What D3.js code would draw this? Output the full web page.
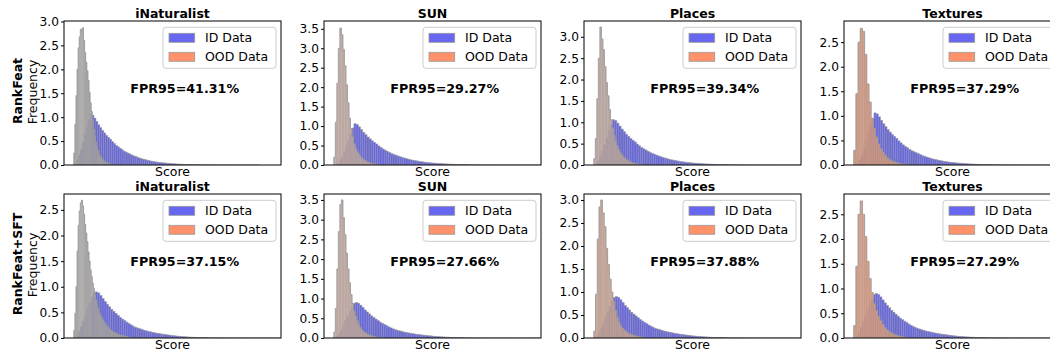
<!DOCTYPE html>
<html><head><meta charset="utf-8">
<script src="https://cdn.jsdelivr.net/npm/d3@7"></script>
<style>body{margin:0;background:#fff}svg{display:block;font-family:"DejaVu Sans",sans-serif}</style>
</head><body><svg id="c" width="1050" height="353"></svg>
<script>
// ---------- data ----------
const datasets = ["iNaturalist", "SUN", "Places", "Textures"];
const methods = ["RankFeat", "RankFeat+SFT"];
const fpr95 = [[41.31, 29.27, 39.34, 37.29], [37.15, 27.66, 37.88, 27.29]];
const yMax = [[3.01, 3.70, 3.37, 2.93], [2.81, 3.65, 3.13, 2.91]];
const yTickLabels = [
  [[0, 0.5, 1, 1.5, 2, 2.5, 3], [0, 0.5, 1, 1.5, 2, 2.5, 3, 3.5], [0, 0.5, 1, 1.5, 2, 2.5, 3], [0, 0.5, 1, 1.5, 2, 2.5]],
  [[0, 0.5, 1, 1.5, 2, 2.5], [0, 0.5, 1, 1.5, 2, 2.5, 3, 3.5], [0, 0.5, 1, 1.5, 2, 2.5, 3], [0, 0.5, 1, 1.5, 2, 2.5]]
];
// ID histogram (ImageNet) per method, bin edges in score units
const idHistRankFeat = [0.03,0.1,0.2,0.33,0.48,0.64,0.8,0.95,1.06,1.04,0.98,0.91,0.84,0.78,0.72,0.67,0.62,0.58,0.54,0.49,0.45,0.41,0.38,0.35,0.32,0.29,0.27,0.25,0.23,0.21,0.19,0.175,0.16,0.145,0.13,0.12,0.11,0.1,0.09,0.082,0.074,0.067,0.06,0.055,0.05,0.045,0.041,0.037,0.034,0.03,0.027,0.024,0.021,0.019,0.017,0.015,0.013,0.011,0.01,0.009,0.008,0.007,0.006,0.005,0.005,0.004,0.004,0.003,0.003,0.003,0.003,0.003,0.003,0.002,0.002,0.002,0.002,0.002,0.002,0.002,0.002,0.002,0.002,0.001,0.001,0.001,0.001,0.001,0.001,0.001,0.001,0.001,0.001,0.001,0.001];
const idHistSFT = [0.01,0.04,0.12,0.22,0.33,0.45,0.57,0.69,0.8,0.88,0.9,0.88,0.83,0.77,0.71,0.66,0.61,0.56,0.52,0.48,0.44,0.4,0.37,0.34,0.31,0.28,0.255,0.23,0.21,0.195,0.18,0.165,0.15,0.14,0.13,0.12,0.11,0.1,0.092,0.085,0.078,0.072,0.066,0.06,0.054,0.048,0.043,0.038,0.034,0.03,0.027,0.024,0.021,0.018,0.016,0.014,0.012,0.01,0.009,0.008,0.007,0.006,0.005,0.004,0.004,0.003,0.003,0.003,0.003,0.003,0.003,0.002,0.002,0.002,0.002,0.002,0.002,0.002,0.002,0.002,0.002,0.001,0.001,0.001,0.001,0.001,0.001,0.001,0.001,0.001,0.001,0.001,0.001,0.001,0.001];
const idBinStart = [[4.8, 5.8, 5.1, 5.8], [4.5, 4.5, 4.5, 4.5]];
const idBinWidth = [[0.9, 1.0, 1.0, 1.0], [1.0, 1.0, 1.0, 1.0]];
// OOD histograms
const oodINatRankFeat = [0.25,0.85,1.45,2.0,2.45,2.68,2.84,2.79,2.87,2.6,2.35,2.15,1.97,1.77,1.52,1.3,1.12,0.92,0.75,0.6,0.48,0.38,0.3,0.23,0.18,0.15,0.12,0.09,0.075,0.06,0.05,0.04,0.03,0.02,0.015,0.01];
const oodSUNRankFeat = [0.2,1.1,2.1,3.0,3.52,3.35,2.97,2.55,2.06,1.6,1.2,0.93,0.74,0.55,0.44,0.35,0.29,0.23,0.18,0.15,0.12,0.1,0.08,0.06,0.045,0.035,0.03,0.02,0.015,0.01];
const oodPlacesRankFeat = [0.15,0.62,1.55,2.5,3.23,2.95,2.7,2.3,1.93,1.62,1.3,1.06,0.86,0.7,0.56,0.45,0.36,0.29,0.24,0.2,0.16,0.13,0.11,0.085,0.07,0.055,0.045,0.035,0.028,0.02,0.015,0.01];
const oodTexturesRankFeat = [0.3,1.45,2.5,2.78,2.72,2.25,1.65,1.28,0.95,0.74,0.57,0.43,0.33,0.26,0.2,0.15,0.11,0.085,0.065,0.05,0.038,0.028,0.02,0.015,0.01];
const oodINatSFT = [0.15,0.48,1.0,1.7,2.2,2.48,2.64,2.69,2.58,2.42,2.22,2.05,1.88,1.68,1.5,1.33,1.2,1.07,0.97,0.86,0.74,0.66,0.58,0.5,0.45,0.41,0.37,0.33,0.3,0.27,0.24,0.22,0.2,0.17,0.15,0.13,0.12,0.11,0.1,0.09,0.08,0.07,0.06,0.055,0.05,0.045,0.04,0.035,0.03,0.025,0.02,0.015,0.01];
const oodSUNSFT = [0.15,0.75,1.75,2.7,3.38,3.5,3.05,2.62,2.15,1.75,1.4,1.1,0.88,0.68,0.55,0.44,0.35,0.27,0.21,0.17,0.14,0.12,0.095,0.075,0.06,0.05,0.04,0.03,0.02,0.015,0.01];
const oodPlacesSFT = [0.15,0.95,2.15,2.85,3.0,2.72,2.42,1.95,1.6,1.28,1.0,0.8,0.6,0.46,0.36,0.28,0.22,0.18,0.15,0.12,0.1,0.08,0.066,0.052,0.04,0.032,0.024,0.018,0.012];
const oodTexturesSFT = [0.25,1.45,2.5,2.77,2.5,2.05,1.55,1.2,0.92,0.7,0.56,0.44,0.35,0.27,0.21,0.165,0.13,0.1,0.075,0.06,0.045,0.035,0.025,0.018,0.012];
const oodBinStart = [[4.5, 4.5, 4.5, 4.5], [4.5, 4.5, 4.5, 4.5]];
const oodBinWidth = [[0.5, 0.7, 0.7, 1.0], [0.5, 0.7, 0.8, 1.0]];

// ---------- styles ----------
// apparent colour of the dense OOD bars (fill blended with the grey bar edges)
const oodTone = [["#a19e9e", "#b6a39c", "#b3a19b", "#d3977f"], ["#a3a09f", "#b7a39b", "#c1a193", "#d69a82"]];
const oodEdgeOpacity = [[0, 0, 0, 0.45], [0, 0, 0.15, 0.45]];

const idHist = [idHistRankFeat, idHistSFT];
const oodHist = [[oodINatRankFeat, oodSUNRankFeat, oodPlacesRankFeat, oodTexturesRankFeat],
                 [oodINatSFT, oodSUNSFT, oodPlacesSFT, oodTexturesSFT]];

const svg = d3.select("#c");
const panelW = 217, panelH = 144;
const lefts = [64, 324, 584, 844], tops = [21, 194];
const ID_FILL = "#0000e6", ID_OP = 0.6;
const OOD_FILL = "#ff7f50", OOD_OP = 0.85;
const EDGE = "#9a9a9a";

function bins(vals, start, bw) {
  return vals.map((v, i) => ({ x0: start + i * bw, x1: start + (i + 1) * bw, v }));
}

methods.forEach((m, r) => {
  datasets.forEach((ds, c) => {
    const L = lefts[c], T = tops[r];
    const x = d3.scaleLinear().domain([0, 100]).range([L, L + panelW]);
    const y = d3.scaleLinear().domain([0, yMax[r][c]]).range([T + panelH, T]);
    const cid = `clip${r}${c}`;
    svg.append("clipPath").attr("id", cid).append("rect")
      .attr("x", L).attr("y", T).attr("width", panelW).attr("height", panelH);
    const g = svg.append("g").attr("clip-path", `url(#${cid})`);

    // ID bars
    const idB = bins(idHist[r], idBinStart[r][c], idBinWidth[r][c]);
    g.append("g").selectAll("rect").data(idB).join("rect")
      .attr("x", d => x(d.x0)).attr("width", d => x(d.x1) - x(d.x0))
      .attr("y", d => y(d.v)).attr("height", d => y(0) - y(d.v))
      .attr("fill", ID_FILL).attr("fill-opacity", ID_OP)
      .attr("stroke", EDGE).attr("stroke-width", 0.7).attr("stroke-opacity", 0.8);

    // OOD bars
    const oB = bins(oodHist[r][c], oodBinStart[r][c], oodBinWidth[r][c]);
    g.append("g").selectAll("rect").data(oB).join("rect")
      .attr("x", d => x(d.x0)).attr("width", d => x(d.x1) - x(d.x0) + 0.3)
      .attr("y", d => y(d.v)).attr("height", d => y(0) - y(d.v))
      .attr("fill", oodTone[r][c]).attr("fill-opacity", 0.92);
    if (oodEdgeOpacity[r][c] > 0) {
      g.append("g").selectAll("line").data(oB).join("line")
        .attr("x1", d => x(d.x0)).attr("x2", d => x(d.x0))
        .attr("y1", d => y(d.v)).attr("y2", y(0))
        .attr("stroke", "#8a8a8a").attr("stroke-width", 0.7).attr("stroke-opacity", oodEdgeOpacity[r][c]);
    }
    // OOD outline
    const outline = [{ x0: oB[0].x0, v: 0 }, ...oB, { x0: oB[oB.length - 1].x1, v: 0 }];
    g.append("path").datum(outline)
      .attr("d", d3.line().x(d => x(d.x0)).y(d => y(d.v)).curve(d3.curveStepAfter))
      .attr("fill", "none").attr("stroke", "#999").attr("stroke-width", 0.8);

    // y axis
    const ax = svg.append("g").attr("transform", `translate(${L},0)`)
      .call(d3.axisLeft(y).tickValues(yTickLabels[r][c]).tickFormat(d3.format(".1f")).tickSize(3).tickPadding(2));
    ax.select(".domain").remove();
    ax.selectAll("text").attr("font-size", 12.2).attr("fill", "#000").attr("font-family", "DejaVu Sans");
    ax.selectAll("line").attr("stroke", "#000");

    // frame
    svg.append("rect").attr("x", L).attr("y", T).attr("width", panelW).attr("height", panelH)
      .attr("fill", "none").attr("stroke", "#000").attr("stroke-width", 1);

    // title
    svg.append("text").attr("x", L + panelW / 2).attr("y", T - 3.5).attr("text-anchor", "middle")
      .attr("font-size", 12.5).attr("font-weight", "bold").text(ds);
    // x label
    svg.append("text").attr("x", L + panelW / 2).attr("y", T + panelH + 11).attr("text-anchor", "middle")
      .attr("font-size", 12.5).text("Score");
    // FPR annotation
    svg.append("text").attr("x", L + 120.7).attr("y", T + 72.3).attr("text-anchor", "middle")
      .attr("font-size", 12.7).attr("font-weight", "bold").text(`FPR95=${fpr95[r][c].toFixed(2)}%`);

    // legend
    const lg = svg.append("g").attr("transform", `translate(${L + 99},${T + 6.3})`);
    lg.append("rect").attr("width", 113).attr("height", 41).attr("rx", 3)
      .attr("fill", "#fff").attr("fill-opacity", 0.8).attr("stroke", "#cccccc");
    [["ID Data", ID_FILL, ID_OP], ["OOD Data", OOD_FILL, OOD_OP]].forEach((it, i) => {
      lg.append("rect").attr("x", 6).attr("y", 6 + i * 19).attr("width", 25.7).attr("height", 9)
        .attr("fill", it[1]).attr("fill-opacity", it[2]).attr("stroke", EDGE).attr("stroke-width", 0.8);
      lg.append("text").attr("x", 42).attr("y", 15 + i * 18.7).attr("font-size", 12.5).text(it[0]);
    });

    if (c === 0) {
      svg.append("text").attr("transform", `translate(37.3,${T + panelH / 2 - 1}) rotate(-90)`)
        .attr("text-anchor", "middle").attr("font-size", 12.5).text("Frequency");
      svg.append("text").attr("transform", `translate(21.5,${T + panelH / 2 - 2}) rotate(-90)`)
        .attr("text-anchor", "middle").attr("font-size", 12.5).attr("font-weight", "bold").text(m);
    }
  });
});
</script></body></html>
